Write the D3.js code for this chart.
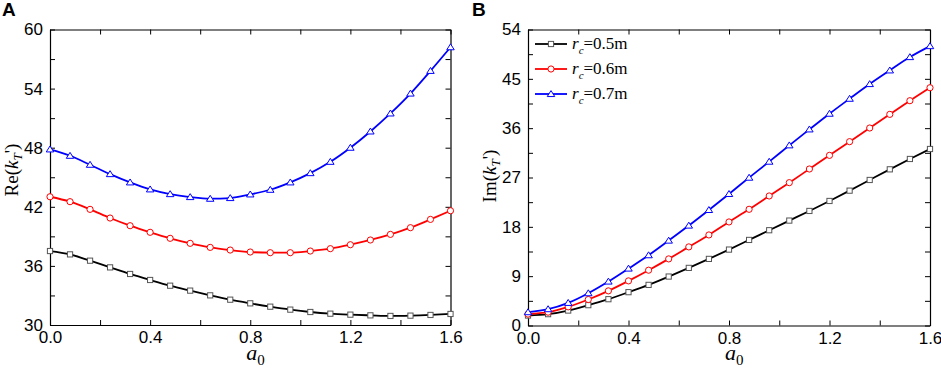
<!DOCTYPE html>
<html><head><meta charset="utf-8">
<script src="https://cdn.jsdelivr.net/npm/d3@7"></script>
<style>body{margin:0;background:#fff}svg{display:block}</style>
</head><body>
<svg id="chart" width="941" height="368"></svg>
<script>
const a0 = [0,0.08,0.16,0.24,0.32,0.40,0.48,0.56,0.64,0.72,0.80,0.88,0.96,1.04,1.12,1.20,1.28,1.36,1.44,1.52,1.60];
const seriesNames = ["0.5m","0.6m","0.7m"];
const reK05 = [37.51,37.17,36.53,35.85,35.18,34.57,33.99,33.49,33.01,32.57,32.20,31.86,31.56,31.32,31.15,31.05,30.98,30.92,30.95,31.02,31.12];
const reK06 = [43.02,42.52,41.74,40.86,40.08,39.41,38.80,38.29,37.88,37.61,37.41,37.34,37.34,37.51,37.75,38.15,38.63,39.20,39.88,40.72,41.60];
const reK07 = [47.83,47.18,46.27,45.32,44.48,43.77,43.29,42.99,42.82,42.89,43.26,43.73,44.48,45.42,46.57,48.00,49.65,51.48,53.50,55.80,58.20];
const imK05 = [1.82,2.07,2.73,3.71,4.80,6.08,7.41,8.93,10.51,12.15,13.85,15.61,17.38,19.14,20.90,22.72,24.60,26.55,28.49,30.38,32.20];
const imK06 = [2.07,2.43,3.40,4.74,6.32,8.14,10.09,12.15,14.34,16.52,18.89,21.20,23.63,26.06,28.55,31.04,33.54,36.03,38.52,41.01,43.38];
const imK07 = [2.43,2.98,4.13,5.89,8.02,10.39,12.82,15.49,18.23,21.08,24.00,26.97,29.89,32.87,35.78,38.64,41.37,44.05,46.54,48.97,50.97];
const xTicks = [0,0.4,0.8,1.2,1.6];
const yTicksA = [30,36,42,48,54,60];
const yTicksB = [0,9,18,27,36,45,54];

const colors = ["#000000","#ff0000","#0000ff"];
const markerStroke = ["#555555","#ff0000","#0000ff"];
const shapes = ["square","circle","triangle"];

const svg = d3.select("#chart");

function drawMarker(g, shape, x, y, color){
  if(shape==="square"){
    g.append("rect").attr("x",x-2.6).attr("y",y-2.6).attr("width",5.2).attr("height",5.2)
      .attr("fill","#fff").attr("stroke",color).attr("stroke-width",1);
  } else if(shape==="circle"){
    g.append("circle").attr("cx",x).attr("cy",y).attr("r",3.1)
      .attr("fill","#fff").attr("stroke",color).attr("stroke-width",1);
  } else {
    const s=3.4;
    g.append("path").attr("d",`M${x},${y-s}L${x+s*1.1},${y+s*0.75}L${x-s*1.1},${y+s*0.75}Z`)
      .attr("fill","#fff").attr("stroke",color).attr("stroke-width",1);
  }
}

function panel(opts){
  const {left,right,top,bottom,yDomain,yTicks,series,letter,letterX,ylabelPrefix,ylabelX,ylabelY,legend} = opts;
  const x = d3.scaleLinear().domain([0,1.6]).range([left,right]);
  const y = d3.scaleLinear().domain(yDomain).range([bottom,top]);
  const g = svg.append("g");
  const step = yTicks[1]-yTicks[0];
  const yMinor = d3.range(yDomain[0], yDomain[1]+1e-9, step/2);
  const xMinor = d3.range(0, 1.6+1e-9, 0.2);

  const fmtX = d3.format(".1f");
  const axB = d3.axisBottom(x).tickValues(xMinor).tickSizeInner(-5).tickSizeOuter(0).tickFormat(d=>xTicks.some(t=>Math.abs(t-d)<1e-9)?fmtX(d):"");
  const axT = d3.axisTop(x).tickValues(xMinor).tickSizeInner(-5).tickSizeOuter(0).tickFormat("");
  const axL = d3.axisLeft(y).tickValues(yMinor).tickSizeInner(-5).tickSizeOuter(0).tickFormat(d=>yTicks.includes(d)?String(d):"");
  const axR = d3.axisRight(y).tickValues(yMinor).tickSizeInner(-5).tickSizeOuter(0).tickFormat("");
  const styleAx = sel => {
    sel.selectAll("path.domain").attr("stroke","#000").attr("stroke-width",1.2);
    sel.selectAll(".tick line").attr("stroke","#000").attr("stroke-width",1);
    sel.selectAll(".tick text").attr("fill","#000").style("font-family","'Liberation Sans',Arial,sans-serif").style("font-size","17px");
  };
  g.append("g").attr("transform",`translate(0,${bottom})`).call(axB).call(styleAx).selectAll(".tick text").attr("dy","0").attr("y",18);
  g.append("g").attr("transform",`translate(0,${top})`).call(axT).call(styleAx);
  g.append("g").attr("transform",`translate(${left},0)`).call(axL).call(styleAx).selectAll(".tick text").attr("x",-7);
  g.append("g").attr("transform",`translate(${right},0)`).call(axR).call(styleAx);

  const line = d3.line().x((d,i)=>x(a0[i])).y(d=>y(d)).curve(d3.curveMonotoneX);
  series.forEach((s,k)=>{
    g.append("path").attr("d",line(s)).attr("fill","none").attr("stroke",colors[k]).attr("stroke-width",1.8);
  });
  series.forEach((s,k)=>{
    s.forEach((v,i)=>drawMarker(g,shapes[k],x(a0[i]),y(v),markerStroke[k]));
  });

  svg.append("text").attr("x",letterX).attr("y",16).text(letter)
    .style("font-family","'Liberation Sans',Arial,sans-serif").style("font-weight","bold").style("font-size","19px");

  const yl = svg.append("text").attr("transform",`translate(${ylabelX},${ylabelY}) rotate(-90)`)
    .attr("text-anchor","middle").style("font-family","'Liberation Serif','Times New Roman',serif").style("font-size","19px");
  yl.append("tspan").text(ylabelPrefix+"(");
  yl.append("tspan").text("k").style("font-style","italic");
  yl.append("tspan").text("T").style("font-style","italic").style("font-size","13px").attr("dy",4);
  yl.append("tspan").text("'").attr("dy",-4);
  yl.append("tspan").text(")");

  const xl = svg.append("text").attr("x",(left+right)/2 - 4).attr("y",360)
    .style("font-family","'Liberation Serif','Times New Roman',serif").style("font-size","22px");
  xl.append("tspan").text("a").style("font-style","italic");
  xl.append("tspan").text("0").style("font-size","15px").attr("dy",5);

  if(legend){
    const lx = left+7, rows=[44,69,94];
    seriesNames.forEach((nm,k)=>{
      const ly = rows[k];
      svg.append("line").attr("x1",lx).attr("x2",lx+32).attr("y1",ly).attr("y2",ly).attr("stroke",colors[k]).attr("stroke-width",1.8);
      drawMarker(svg,shapes[k],lx+16,ly,markerStroke[k]);
      const t = svg.append("text").attr("x",lx+37).attr("y",ly+5)
        .style("font-family","'Liberation Serif','Times New Roman',serif").style("font-size","17px");
      t.append("tspan").text("r").style("font-style","italic");
      t.append("tspan").text("c").style("font-style","italic").style("font-size","11px").attr("dy",5);
      t.append("tspan").text("=" + nm.replace("m","")).attr("dy",-5);
      t.append("tspan").text("m");
    });
  }
}

panel({left:50,right:450.5,top:29.5,bottom:325,yDomain:[30,60],yTicks:yTicksA,
  series:[reK05,reK06,reK07],letter:"A",letterX:2,ylabelPrefix:"Re",ylabelX:18,ylabelY:170,legend:false});
panel({left:528,right:930,top:29.5,bottom:325.5,yDomain:[0,54],yTicks:yTicksB,
  series:[imK05,imK06,imK07],letter:"B",letterX:472,ylabelPrefix:"Im",ylabelX:496,ylabelY:176,legend:true});
</script>
</body></html>
